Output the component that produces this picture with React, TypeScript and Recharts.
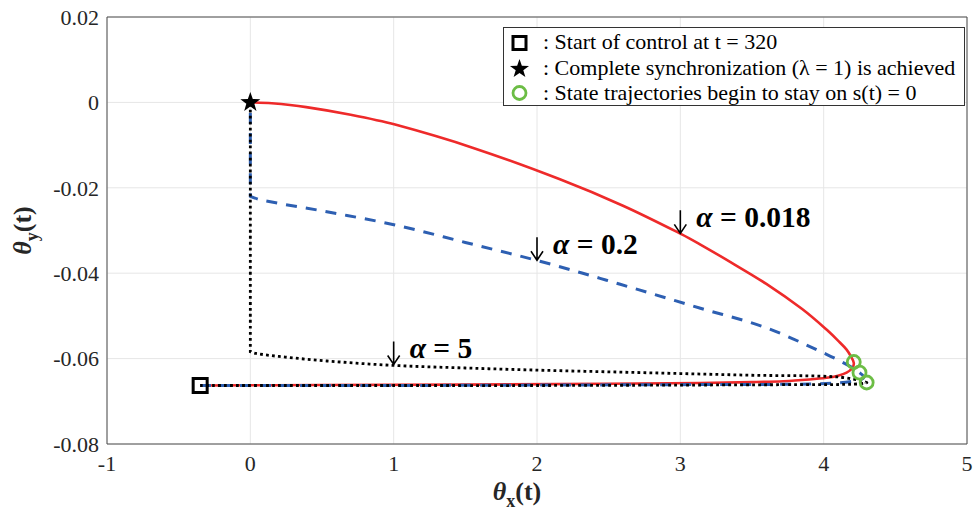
import React from 'react';
import {
  ComposedChart,
  Line,
  Scatter,
  XAxis,
  YAxis,
  CartesianGrid,
  ReferenceDot,
  ReferenceArea,
} from 'recharts';

// ---------- data ----------
const xTicks = [-1, 0, 1, 2, 3, 4, 5];
const yTicks = [0.02, 0, -0.02, -0.04, -0.06, -0.08];

// alpha = 0.018 trajectory (time order: start of control -> synchronization)
const alpha0018Points: [number, number][] = [
  [-0.35, -0.0663], [-0.35, -0.0663], [0.5, -0.0662], [1.5, -0.0661], [2.5, -0.0659],
  [3.14, -0.0657], [3.5, -0.0655], [3.72, -0.0653], [3.9, -0.0649], [4.02, -0.0645],
  [4.1, -0.064], [4.16, -0.0633], [4.2, -0.0622], [4.21, -0.061], [4.19, -0.0595],
  [4.16, -0.0579], [4.1, -0.0558], [4.02, -0.0532], [3.85, -0.0484], [3.6, -0.0425],
  [3.35, -0.0374], [3.14, -0.0333], [3.01, -0.0309], [2.6, -0.0242], [2.16, -0.018],
  [1.55, -0.0106], [1.01, -0.0052], [0.7, -0.0029], [0.39, -0.0011], [0.15, -0.0002], [0, 0],
];

// alpha = 0.2 trajectory
const alpha02Points: [number, number][] = [
  [-0.35, -0.0663], [-0.35, -0.0663], [1, -0.0663], [2, -0.0662], [3, -0.0661], [3.8, -0.066],
  [4.1, -0.0657], [4.25, -0.065], [4.28, -0.0643], [4.25, -0.0633], [4.2, -0.0621],
  [4.02, -0.059], [3.6, -0.0528], [3.14, -0.0482], [2.44, -0.0412], [2.02, -0.0372],
  [1.5, -0.0328], [1.01, -0.0287], [0.5, -0.0254], [0.08, -0.0229], [0, -0.022], [0, -0.022], [0, 0],
];

// alpha = 5 trajectory
const alpha5Points: [number, number][] = [
  [-0.35, -0.0663], [-0.35, -0.0663], [1, -0.0663], [2, -0.0663], [3, -0.0662], [3.8, -0.0661],
  [4.2, -0.066], [4.3, -0.0656], [4.1, -0.0643], [3.5, -0.0639], [3.0, -0.0635],
  [2.5, -0.0631], [2.0, -0.0627], [1.5, -0.0622], [1.0, -0.0616], [0.55, -0.0606],
  [0.2, -0.0595], [0.04, -0.0588], [0, -0.0584], [0, -0.0584], [0, 0],
];

const startPoints: [number, number][] = [[-0.35, -0.0663]];
const syncPoints: [number, number][] = [[0, 0]];
const slidingPoints: [number, number][] = [[4.21, -0.0608], [4.25, -0.0633], [4.3, -0.0656]];

const annotationLabels = ['α = 0.018', 'α = 0.2', 'α = 5'];
const annotationPoints: [number, number][] = [[3.0, -0.0309], [2.0, -0.0372], [1.0, -0.0616]];

const legendLabels = [
  ': Start of control at t = 320',
  ': Complete synchronization (λ = 1) is achieved',
  ': State trajectories begin to stay on s(t) = 0',
];

// ---------- helpers ----------
const toXY = (pts: [number, number][]) => pts.map(([x, y]) => ({ x, y }));

const FONT = 'Liberation Serif, Times New Roman, Tinos, DejaVu Serif, serif';
const RED = '#ee2a2a';
const BLUE = '#2d5fb2';
const GREEN = '#6cbd45';

// smooth curve through points (length-weighted cardinal spline), parametric so it
// works for paths that turn back on themselves
const smoothCurve = (context: any) => {
  let pts: [number, number][] = [];
  return {
    areaStart() {},
    areaEnd() {},
    lineStart() {
      pts = [];
    },
    point(x: number, y: number) {
      pts.push([+x, +y]);
    },
    lineEnd() {
      const n = pts.length;
      if (!n) return;
      context.moveTo(pts[0][0], pts[0][1]);
      const d = (a: [number, number], b: [number, number]) => Math.hypot(b[0] - a[0], b[1] - a[1]);
      for (let i = 0; i < n - 1; i++) {
        const p0 = pts[Math.max(0, i - 1)];
        const p1 = pts[i];
        const p2 = pts[i + 1];
        const p3 = pts[Math.min(n - 1, i + 2)];
        const d01 = d(p0, p1);
        const d12 = d(p1, p2);
        const d23 = d(p2, p3);
        if (d12 < 1e-6) continue;
        const k1 = d01 > 1e-6 ? d12 / (3 * (d01 + d12)) : 0;
        const k2 = d23 > 1e-6 ? d12 / (3 * (d12 + d23)) : 0;
        const c1x = p1[0] + (p2[0] - p0[0]) * k1;
        const c1y = p1[1] + (p2[1] - p0[1]) * k1;
        const c2x = p2[0] - (p3[0] - p1[0]) * k2;
        const c2y = p2[1] - (p3[1] - p1[1]) * k2;
        context.bezierCurveTo(c1x, c1y, c2x, c2y, p2[0], p2[1]);
      }
    },
  };
};

const starPath = (cx: number, cy: number, ro: number, ri: number) => {
  const pts: string[] = [];
  for (let i = 0; i < 10; i++) {
    const r = i % 2 === 0 ? ro : ri;
    const a = -Math.PI / 2 + (i * Math.PI) / 5;
    pts.push(`${(cx + r * Math.cos(a)).toFixed(2)},${(cy + r * Math.sin(a)).toFixed(2)}`);
  }
  return `M${pts.join('L')}Z`;
};

const SquareShape = (p: any) => (
  <rect x={p.cx - 7} y={p.cy - 7} width={14} height={14} fill="none" stroke="#000" strokeWidth={3} />
);
const StarShape = (p: any) => <path d={starPath(p.cx, p.cy, 10.5, 4.2)} fill="#000" />;
const CircleShape = (p: any) => (
  <circle cx={p.cx} cy={p.cy} r={6.5} fill="none" stroke={GREEN} strokeWidth={2.8} />
);

const makeAnnotation = (label: string) => (p: any) => {
  const x = p.cx;
  const y = p.cy;
  return (
    <g>
      <path
        d={`M${x},${y - 24}L${x},${y - 1}M${x - 6},${y - 10}L${x},${y - 1}L${x + 6},${y - 10}`}
        fill="none"
        stroke="#000"
        strokeWidth={1.6}
      />
      <text x={x + 16} y={y - 7} fontFamily={FONT} fontSize={29.5} fontWeight="bold" fill="#000">
        <tspan fontStyle="italic">{label.slice(0, 1)}</tspan>
        <tspan>{label.slice(1)}</tspan>
      </text>
    </g>
  );
};

const XLabel = (p: any) => {
  const vb = p.viewBox || {};
  const cx = vb.x + vb.width / 2 - 20;
  return (
    <text x={cx} y={500} textAnchor="middle" fontFamily={FONT} fontSize={26} fontWeight="bold" fill="#262626">
      <tspan fontStyle="italic">θ</tspan>
      <tspan fontSize={18} dy={7}>x</tspan>
      <tspan dy={-7}>(t)</tspan>
    </text>
  );
};

const YLabel = (p: any) => {
  const vb = p.viewBox || {};
  const cy = vb.y + vb.height / 2;
  const x = 31;
  return (
    <text
      x={x}
      y={cy}
      transform={`rotate(-90 ${x} ${cy})`}
      textAnchor="middle"
      fontFamily={FONT}
      fontSize={26}
      fontWeight="bold"
      fill="#262626"
    >
      <tspan fontStyle="italic">θ</tspan>
      <tspan fontSize={18} dy={7}>y</tspan>
      <tspan dy={-7}>(t)</tspan>
    </text>
  );
};

const fmtY = (v: number) => (Math.abs(v) < 1e-9 ? '0' : v.toFixed(2));

export default function App() {
  return (
    <div style={{ position: 'absolute', left: 0, top: 0, width: 978, height: 516, background: '#fff' }}>
      <ComposedChart
        width={978}
        height={516}
        margin={{ top: 17, right: 11, bottom: 24, left: 47 }}
        style={{ fontFamily: FONT }}
      >
        <CartesianGrid stroke="#e6e6e6" strokeWidth={1} horizontalValues={yTicks} verticalValues={xTicks} />
        <XAxis
          type="number"
          dataKey="x"
          domain={[-1, 5]}
          ticks={xTicks}
          allowDataOverflow
          height={48}
          axisLine={false}
          tickLine={false}
          tickMargin={5}
          tick={{ fontFamily: FONT, fontSize: 22, fill: '#262626' }}
          tickFormatter={(v: number) => String(v)}
          label={<XLabel />}
        />
        <YAxis
          type="number"
          dataKey="y"
          domain={[-0.08, 0.02]}
          ticks={yTicks}
          allowDataOverflow
          width={60}
          axisLine={false}
          tickLine={false}
          tick={{ fontFamily: FONT, fontSize: 22, fill: '#262626' }}
          tickFormatter={fmtY}
          label={<YLabel />}
        />
        <ReferenceArea x1={-1} x2={5} y1={-0.08} y2={0.02} fill="none" fillOpacity={0} stroke="#4d4d4d" strokeWidth={1} />
        <Line
          data={toXY(alpha0018Points)}
          dataKey="y"
          type={smoothCurve as any}
          stroke={RED}
          strokeWidth={2.6}
          dot={false}
          activeDot={false}
          isAnimationActive={false}
        />
        <Line
          data={toXY(alpha02Points)}
          dataKey="y"
          type={smoothCurve as any}
          stroke={BLUE}
          strokeWidth={3}
          strokeDasharray="11 9"
          dot={false}
          activeDot={false}
          isAnimationActive={false}
        />
        <Line
          data={toXY(alpha5Points)}
          dataKey="y"
          type={smoothCurve as any}
          stroke="#000"
          strokeWidth={2.8}
          strokeDasharray="2.8 3.2"
          dot={false}
          activeDot={false}
          isAnimationActive={false}
        />
        <Scatter data={toXY(startPoints)} dataKey="y" shape={SquareShape} isAnimationActive={false} />
        <Scatter data={toXY(syncPoints)} dataKey="y" shape={StarShape} isAnimationActive={false} />
        <Scatter data={toXY(slidingPoints)} dataKey="y" shape={CircleShape} isAnimationActive={false} />
        {annotationPoints.map(([x, y], i) => (
          <ReferenceDot
            key={i}
            x={x}
            y={y}
            r={0}
            ifOverflow="visible"
            shape={makeAnnotation(annotationLabels[i])}
          />
        ))}
      </ComposedChart>
      <div
        style={{
          position: 'absolute',
          left: 503,
          top: 27,
          width: 462,
          height: 79,
          border: '1px solid #333',
          background: '#fff',
          boxSizing: 'border-box',
        }}
      >
        <svg width={460} height={77} style={{ display: 'block' }}>
          <rect x={9} y={8.5} width={13} height={13} fill="none" stroke="#000" strokeWidth={3} />
          <path d={starPath(15.5, 41, 10, 4)} fill="#000" />
          <circle cx={15.5} cy={65} r={6.5} fill="none" stroke={GREEN} strokeWidth={2.8} />
          {legendLabels.map((t, i) => (
            <text key={i} x={39} y={21 + i * 25.5} fontFamily={FONT} fontSize={22} fill="#000">
              {t}
            </text>
          ))}
        </svg>
      </div>
    </div>
  );
}
